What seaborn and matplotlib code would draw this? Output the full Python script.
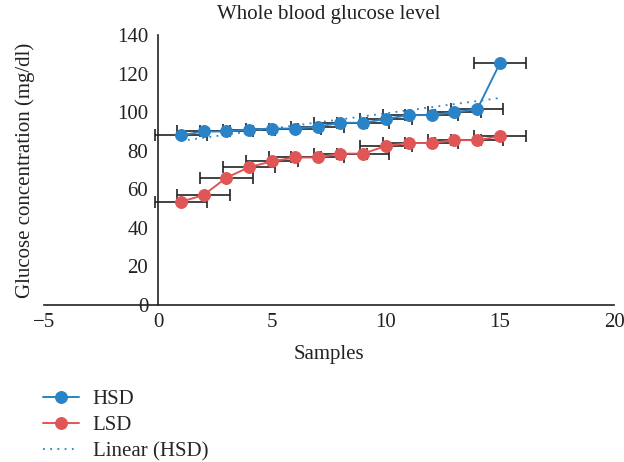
import numpy as np
import pandas as pd
import seaborn as sns
import matplotlib.pyplot as plt

# values
samples = list(range(1, 16))
hsd = [88, 90, 90, 91, 91.5, 91.5, 92.5, 94.5, 94.5, 96.5, 98.5, 98.5, 100, 101.5, 125.5]
lsd = [53.5, 57, 66, 71.5, 74.5, 76.5, 76.5, 78.5, 78.5, 82.5, 84, 84, 85.5, 85.5, 87.5]
x_err = 1.15  # constant (Excel "standard error") horizontal bars

df = pd.DataFrame({"Samples": samples, "HSD": hsd, "LSD": lsd})

sns.set_theme(style="white")
plt.rcParams["font.family"] = ["Liberation Serif", "DejaVu Serif"]

blue = "#2a83c6"
red = "#e05656"
fs = 15

fig = plt.figure(figsize=(6.24, 4.62), dpi=100)
ax = fig.add_axes([0.0705, 0.34, 0.9135, 0.584])

for col in ["HSD", "LSD"]:
    ax.errorbar(df["Samples"], df[col], xerr=x_err, fmt="none", ecolor="#222222",
                elinewidth=1.2, capsize=4, capthick=1.2, zorder=2)

sns.lineplot(data=df, x="Samples", y="HSD", marker="o", color=blue, markersize=8.5,
             markeredgecolor=blue, linewidth=1.4, ax=ax, label="HSD", zorder=3)
sns.lineplot(data=df, x="Samples", y="LSD", marker="o", color=red, markersize=8.5,
             markeredgecolor=red, linewidth=1.4, ax=ax, label="LSD", zorder=3)
sns.regplot(data=df, x="Samples", y="HSD", scatter=False, ci=None, color=blue, ax=ax,
            label="Linear (HSD)", line_kws=dict(linestyle=(0, (1, 3)), linewidth=1.3))

ax.set_xlim(-5, 20)
ax.set_ylim(0, 140)
ax.set_xticks(range(-5, 21, 5))
ax.set_yticks(range(0, 141, 20))

for s in ["top", "right"]:
    ax.spines[s].set_visible(False)
ax.spines["left"].set_position(("data", 0))
for s in ["left", "bottom"]:
    ax.spines[s].set_color("#222222")
    ax.spines[s].set_linewidth(1.2)

ax.tick_params(axis="both", length=0, labelsize=fs, colors="#222222")
ax.tick_params(axis="y", pad=7)
ax.tick_params(axis="x", pad=6)

ax.set_xlabel("Samples", fontsize=fs, color="#222222")
ax.set_ylabel("Glucose concentration (mg/dl)", fontsize=fs, color="#222222")
ax.xaxis.set_label_coords(0.5, -0.15)
ax.yaxis.set_label_coords(-0.016, 0.5)

fig.text(329 / 624, 1 - 14 / 462, "Whole blood glucose level", fontsize=fs,
         ha="center", va="center", color="#222222")

handles, labels = ax.get_legend_handles_labels()
ax.get_legend().remove()
fig.legend(handles, labels, loc="upper left", bbox_to_anchor=(35 / 624, 1 - 381 / 462),
           frameon=False, fontsize=fs, handlelength=1.7, handletextpad=0.67,
           labelspacing=0.32, borderaxespad=0)

fig.savefig("out.png", dpi=100)
